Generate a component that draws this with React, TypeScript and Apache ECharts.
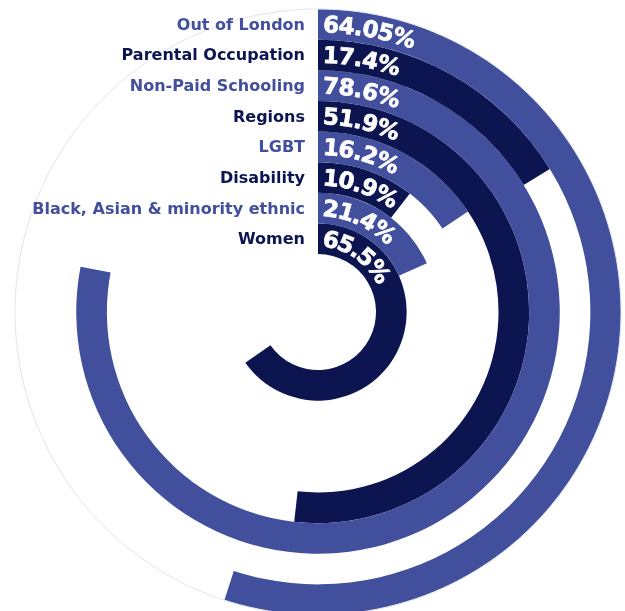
import React, { useEffect, useRef } from "react";
import * as echarts from "echarts";

// Inner ring first, outer ring last
const categories = [
  "Women",
  "Black, Asian & minority ethnic",
  "Disability",
  "LGBT",
  "Regions",
  "Non-Paid Schooling",
  "Parental Occupation",
  "Out of London",
];
// Percentages printed on the rings
const labelPercents = [65.5, 21.4, 10.9, 16.2, 51.9, 78.6, 17.4, 64.05];
// Angular extent of each ring as drawn in the picture (share of a full turn, %)
const arcPercents = [65.3, 18.3, 10.5, 15.6, 51.8, 78.0, 16.2, 55.0];
// Tone of each ring: 0 = navy, 1 = blue
const ringTones = [0, 1, 0, 1, 0, 1, 0, 1];

const NAVY = "#0c1550";
const BLUE = "#414f9d";
const toneColor = (t: number) => (t === 0 ? NAVY : BLUE);

const FONT_FAMILY = '"DejaVu Sans", sans-serif';
const VALUE_FONT_SIZE = 23;
const VALUE_FONT = `bold ${VALUE_FONT_SIZE}px ${FONT_FAMILY}`;

export default function App() {
  const ref = useRef<HTMLDivElement>(null);

  useEffect(() => {
    if (!ref.current) return;
    const chart = echarts.init(ref.current, null, { renderer: "svg" });

    const canvas = document.createElement("canvas");
    const ctx = canvas.getContext("2d")!;
    ctx.font = VALUE_FONT;
    const measure = (s: string) => ctx.measureText(s).width;

    const labelTexts = labelPercents.map((v) => `${v}%`);

    chart.setOption({
      animation: false,
      polar: { center: [318, 312], radius: [58, 303] },
      angleAxis: {
        type: "value",
        min: 0,
        max: 100,
        startAngle: 90,
        clockwise: true,
        axisLine: { show: false },
        axisTick: { show: false },
        axisLabel: { show: false },
        splitLine: { show: false },
      },
      radiusAxis: {
        type: "category",
        data: categories,
        axisLine: { show: false },
        axisTick: { show: false },
        splitLine: { show: false },
        axisLabel: {
          interval: 0,
          margin: 13,
          fontSize: 16,
          fontWeight: "bold",
          fontFamily: FONT_FAMILY,
          color: (_v: any, i: number) => toneColor(ringTones[i]),
          textBorderColor: "inherit",
          textBorderWidth: 0.5,
        },
        z: 10,
      },
      series: [
        {
          type: "bar",
          coordinateSystem: "polar",
          barCategoryGap: "0%",
          data: arcPercents.map((v, i) => ({
            value: v,
            itemStyle: { color: toneColor(ringTones[i]) },
          })),
          silent: true,
          z: 2,
        },
        {
          type: "custom",
          coordinateSystem: "polar",
          data: categories.map((_, i) => [i, 0]),
          encode: { radius: 0, angle: 1 },
          z: 5,
          silent: true,
          clip: false,
          renderItem: (params: any, api: any) => {
            const i = api.value(0);
            const cs = params.coordSys;
            const cx = cs.cx;
            const cy = cs.cy;
            const p = api.coord([i, 0]);
            const R = Math.hypot(p[0] - cx, p[1] - cy);
            const text = labelTexts[i];
            const children: any[] = [];
            if (i === categories.length - 1) {
              // faint outline of the whole dial
              children.push({
                type: "circle",
                z2: -10,
                shape: { cx, cy, r: cs.r },
                style: { fill: "none", stroke: "#e1e4f1", lineWidth: 1 },
              });
            }
            let s = 5;
            for (const ch of text) {
              const w = measure(ch);
              const a = (s + w / 2) / R;
              children.push({
                type: "text",
                x: cx + R * Math.sin(a),
                y: cy - R * Math.cos(a),
                rotation: -a,
                style: {
                  text: ch,
                  fill: "#ffffff",
                  font: VALUE_FONT,
                  textAlign: "center",
                  textVerticalAlign: "middle",
                  stroke: "#ffffff",
                  lineWidth: 0.7,
                },
              });
              s += w - 0.3;
            }
            return { type: "group", children };
          },
        },
      ],
    });

    return () => chart.dispose();
  }, []);

  return (
    <div
      ref={ref}
      style={{ position: "fixed", left: 0, top: 0, width: 625, height: 611 }}
    />
  );
}
